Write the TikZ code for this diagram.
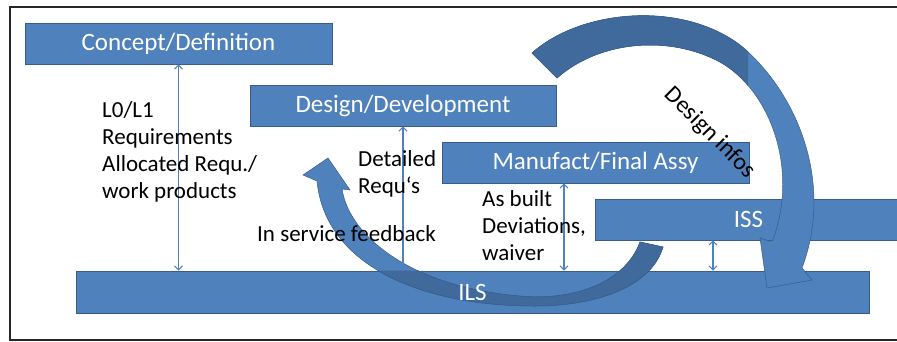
\documentclass[tikz,border=0pt]{standalone}
\usepackage{fontspec}
\setmainfont{Carlito}
\usetikzlibrary{arrows.meta}
\definecolor{boxblue}{HTML}{4F81BD}
\definecolor{boxedge}{HTML}{385D8A}
\definecolor{darkblue}{HTML}{40699C}
\begin{document}
\begin{tikzpicture}[x=1pt,y=-1pt,
  box/.style={draw=boxedge, line width=0.8pt, fill=boxblue, text=white, minimum height=41pt, inner sep=0pt, font=\fontsize{25}{29}\selectfont},
  lbl/.style={align=left, anchor=base west, inner sep=0pt, font=\fontsize{23}{26.7}\selectfont},
  link/.style={draw=boxblue, line width=1.1pt, {Straight Barb[length=4pt,width=8pt]}-{Straight Barb[length=4pt,width=8pt]}},
  bandarrow/.style={fill=boxblue, draw=boxedge, line width=0.5pt}
]
\useasboundingbox (0,0) rectangle (897,341);
% frame
\draw[line width=2pt, color=black!85] (905,6.5) -- (9.5,6.5) -- (9.5,339.5) -- (905,339.5);
% boxes
\node[box, minimum width=307pt] (concept) at (178.5,43.5) {Concept/Definition};
\node[box, minimum width=306pt] (design) at (403,105.5) {Design/Development};
\node[box, minimum width=307pt] (manuf) at (595.5,162.5) {Manufact/Final Assy};
\node[box, minimum width=307pt] (iss) at (748.5,219.5) {ISS};
\node[box, minimum width=793pt, minimum height=42pt] (ils) at (472.5,292) {};
% in-service feedback arrow
\path[bandarrow] (663,247) .. controls (650,290) and (590,306) .. (535,306)
  .. controls (420,306) and (325,265) .. (317,181) -- (303,175) -- (328,158) -- (350,190) -- (342,189)
  .. controls (350,240) and (420,292) .. (535,297)
  .. controls (590,297) and (628,275) .. (640,242) -- cycle;
\begin{scope}
  \clip (ils.north west) rectangle (ils.south east) (575,230) rectangle (700,320);
  \path[bandarrow, fill=darkblue] (663,247) .. controls (650,290) and (590,306) .. (535,306)
    .. controls (420,306) and (325,265) .. (317,181) -- (303,175) -- (328,158) -- (350,190) -- (342,189)
    .. controls (350,240) and (420,292) .. (535,297)
    .. controls (590,297) and (628,275) .. (640,242) -- cycle;
\end{scope}
% design infos arrow
\path[bandarrow] (532,53) .. controls (580,10) and (680,0) .. (740,45)
  .. controls (795,90) and (835,180) .. (802,268) -- (812,280) -- (767,288) -- (760,238) -- (772,242)
  .. controls (800,170) and (770,90) .. (720,62)
  .. controls (670,35) and (600,40) .. (557,78) -- cycle;
\begin{scope}
  \clip (500,0) rectangle (748,90);
  \path[bandarrow, fill=darkblue] (532,53) .. controls (580,10) and (680,0) .. (740,45)
    .. controls (795,90) and (835,180) .. (802,268) -- (812,280) -- (767,288) -- (760,238) -- (772,242)
    .. controls (800,170) and (770,90) .. (720,62)
    .. controls (670,35) and (600,40) .. (557,78) -- cycle;
\end{scope}
% links
\coordinate (mfoot) at ([xshift=-31.5pt]manuf.south);
\coordinate (ifoot) at ([xshift=-35.5pt]iss.south);
\draw[link] (concept.south) -- (concept.south |- ils.north);
\draw[link] (design.south) -- (design.south |- ils.north);
\draw[link] (mfoot) -- (mfoot |- ils.north);
\draw[link] (ifoot) -- (ifoot |- ils.north);
% texts
\node[text=white, font=\fontsize{25}{29}\selectfont] (ilstext) at (ils.center) {ILS};
\node[lbl] (req) at (102,198) {L0/L1\\Requirements\\Allocated Requ./\\work products};
\node[lbl] (detreq) at (358,193.3) {Detailed\\Requ‘s};
\node[lbl] (asbuilt) at (482,260) {As built\\Deviations,\\waiver};
\node[lbl] (feedback) at (257,241) {In service feedback};
\node[rotate=-45, inner sep=0pt, font=\fontsize{24}{28}\selectfont] (dinfo) at (710,133) {Design infos};
\end{tikzpicture}
\end{document}
